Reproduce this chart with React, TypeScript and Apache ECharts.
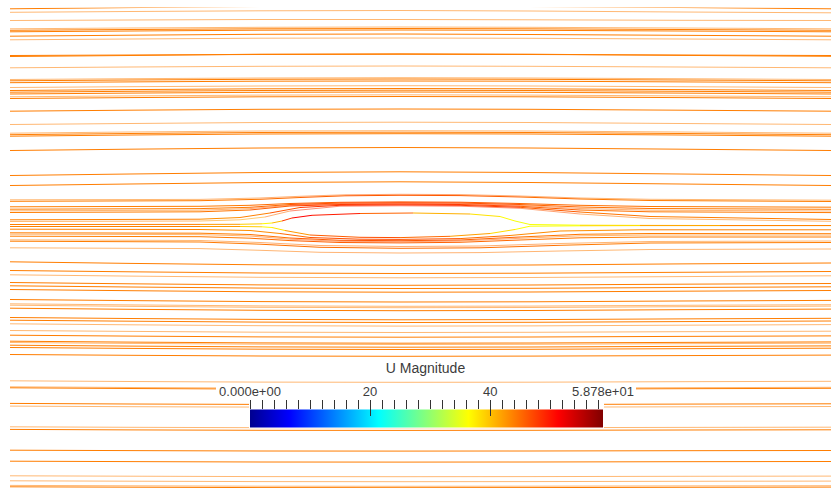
import React, { useEffect, useRef } from "react";
import * as echarts from "echarts";

const U_MAX = 58.78;
const FREESTREAM = 44;

// x positions (data units = pixels) at which far-field streamlines are sampled
const STATIONS = [10, 130, 260, 400, 530, 680, 831];

// far-field streamlines above the airfoil: y at each station
const FAR_UPPER_Y: number[][] = [
  [8.8, 7.6, 6.5, 6.0, 6.5, 7.5, 8.8],
  [12.3, 11.5, 10.8, 10.5, 11.0, 12.0, 12.8],
  [20.5, 20.0, 19.5, 19.5, 19.8, 20.3, 20.5],
  [28.8, 28.0, 27.3, 27.0, 27.3, 28.0, 28.8],
  [30.3, 29.5, 28.8, 28.5, 28.8, 29.5, 30.3],
  [31.8, 31.0, 30.2, 30.0, 30.3, 31.0, 31.8],
  [36.2, 35.2, 34.3, 34.0, 34.5, 35.3, 36.2],
  [39.8, 39.0, 38.2, 38.0, 38.3, 39.0, 39.8],
  [55.5, 55.0, 54.5, 54.3, 54.5, 55.0, 55.5],
  [56.5, 55.5, 54.2, 53.8, 54.2, 55.4, 56.3],
  [67.8, 67.0, 66.3, 66.0, 66.3, 67.0, 67.8],
  [79.5, 78.7, 78.0, 77.7, 78.0, 78.7, 79.5],
  [80.8, 80.0, 79.3, 79.0, 79.3, 80.0, 80.8],
  [82.7, 81.9, 81.2, 81.0, 81.2, 81.9, 82.7],
  [87.5, 86.7, 86.0, 85.7, 86.0, 86.7, 87.5],
  [90.5, 89.6, 88.8, 88.5, 88.8, 89.6, 90.5],
  [92.2, 91.3, 90.5, 90.2, 90.5, 91.3, 92.2],
  [94.0, 93.1, 92.3, 92.0, 92.3, 93.1, 94.0],
  [96.8, 95.9, 95.1, 94.8, 95.1, 95.9, 96.8],
  [98.5, 97.6, 96.8, 96.5, 96.8, 97.6, 98.5],
  [111.2, 110.2, 109.3, 109.0, 109.3, 110.2, 111.2],
  [124.5, 123.5, 122.5, 122.2, 122.5, 123.5, 124.5],
  [133.2, 132.0, 131.0, 130.7, 131.0, 132.0, 133.2],
  [134.7, 133.5, 132.5, 132.2, 132.5, 133.5, 134.7],
  [136.2, 135.0, 134.0, 133.7, 134.0, 135.0, 136.2],
  [150.5, 149.2, 148.0, 147.5, 148.0, 149.2, 150.5],
  [175.5, 174.0, 172.5, 171.8, 172.5, 174.0, 175.5],
  [185.5, 184.0, 182.5, 181.8, 182.5, 184.0, 185.5],
];
const FAR_UPPER_LIGHT = [
  false, true, true, true, false, false, false, true, false, false,
  true, true, false, false, true, false, false, false, true, false,
  false, true, true, false, false, false, false, false,
];

// far-field streamlines below the airfoil
const FAR_LOWER_Y: number[][] = [
  [261.8, 263.4, 264.8, 265.3, 265.0, 263.9, 263.0],
  [270.5, 271.8, 273.0, 273.5, 273.2, 272.3, 271.5],
  [274.8, 276.1, 277.3, 277.8, 277.5, 276.6, 275.8],
  [282.5, 283.8, 284.9, 285.3, 285.0, 284.2, 283.5],
  [285.8, 287.0, 288.1, 288.5, 288.3, 287.5, 286.8],
  [289.5, 290.7, 291.8, 292.2, 292.0, 291.2, 290.5],
  [299.5, 300.6, 301.6, 302.0, 301.8, 301.0, 300.4],
  [303.8, 304.9, 305.9, 306.3, 306.1, 305.3, 304.7],
  [305.2, 306.3, 307.3, 307.7, 307.5, 306.7, 306.1],
  [308.2, 309.3, 310.3, 310.7, 310.5, 309.7, 309.1],
  [317.5, 318.5, 319.4, 319.8, 319.6, 318.9, 318.3],
  [320.2, 321.2, 322.1, 322.5, 322.3, 321.6, 321.0],
  [323.8, 324.8, 325.7, 326.1, 325.9, 325.2, 324.6],
  [330.5, 331.4, 332.2, 332.5, 332.3, 331.7, 331.2],
  [335.2, 336.1, 336.9, 337.2, 337.0, 336.4, 335.9],
  [341.2, 342.1, 342.9, 343.2, 343.0, 342.4, 341.9],
  [342.5, 343.4, 344.2, 344.5, 344.3, 343.7, 343.2],
  [345.2, 346.1, 346.9, 347.2, 347.0, 346.4, 345.9],
  [347.5, 348.4, 349.2, 349.5, 349.3, 348.7, 348.2],
  [354.5, 355.3, 356.0, 356.3, 356.1, 355.6, 355.1],
  [380.8, 381.5, 382.1, 382.3, 382.2, 381.7, 381.3],
  [386.8, 387.5, 388.1, 388.3, 388.2, 387.7, 387.3],
  [387.8, 388.5, 389.1, 389.3, 389.2, 388.7, 388.3],
  [403.4, 404.0, 404.4, 404.6, 404.5, 404.1, 403.8],
  [406.1, 406.7, 407.1, 407.3, 407.2, 406.8, 406.5],
  [426.8, 427.3, 427.7, 427.8, 427.7, 427.4, 427.2],
  [429.4, 429.9, 430.3, 430.4, 430.3, 430.0, 429.8],
  [450.2, 450.6, 451.0, 451.1, 451.0, 450.7, 450.5],
  [461.2, 461.6, 462.0, 462.1, 462.0, 461.7, 461.5],
  [475.8, 476.2, 476.6, 476.7, 476.6, 476.3, 476.1],
  [480.8, 481.2, 481.6, 481.7, 481.6, 481.3, 481.1],
  [485.4, 485.8, 486.2, 486.3, 486.2, 485.9, 485.7],
  [486.8, 487.2, 487.6, 487.7, 487.6, 487.3, 487.1],
];
const FAR_LOWER_LIGHT = [
  false, false, true, false, false, false, false, true, true, false,
  false, false, true, true, false, false, true, false, false, false,
  true, true, false, false, true, true, false, false, false, true,
  true, true, false,
];

// streamlines passing close to the airfoil: [x, y, |U|]
const NEAR_LINES: number[][][] = [
  [[10,199.8,44],[200,199.4,44],[260,198,44.5],[300,196.3,45],[345,194.8,45.5],[400,194.3,46],[460,194.6,45.5],[520,196,45],[580,198,44.5],[650,199.3,44],[831,200.2,44]],
  [[10,201.3,44],[200,200.7,44],[260,199.3,44.5],[300,197.5,45.5],[345,195.8,46],[400,195.3,46.5],[460,195.6,46],[520,197,45.5],[580,199,44.5],[650,200.5,44],[831,201.5,44]],
  [[10,206.8,44],[200,206.3,44],[250,205.3,44.5],[290,203.5,45.5],[340,202.3,46.5],[400,201.9,46.5],[460,202.2,46.5],[520,203.5,45.5],[580,205.3,45],[650,206.5,44.5],[831,207.2,44]],
  [[10,209.2,44],[200,208.6,44],[250,207.3,44.5],[290,204.5,46],[340,203.1,47],[400,202.7,47],[460,203,47],[520,204.5,46],[580,207,45],[650,208.5,44.5],[831,209.3,44]],
  [[10,210.8,44],[200,210.2,44],[250,208.6,45],[290,205.3,46.5],[340,203.8,47.5],[400,203.4,47.5],[460,203.8,47.5],[520,205.4,46.5],[580,208.5,45],[650,210.2,44.5],[831,211,44]],
  [[10,212.5,44],[200,211.8,44],[250,210,45],[290,206,47],[340,204.5,48],[400,204.1,48],[460,204.5,48],[520,206.3,46.5],[580,210,45],[650,211.8,44.5],[831,212.6,44]],
  [[10,219.8,44],[200,219.2,43.5],[240,217.5,42.5],[270,213,45],[300,207.5,48],[340,205.3,48.5],[400,204.9,48.5],[460,205.3,48.5],[520,207.3,47],[580,212,45],[650,216.5,44],[831,219.5,44]],
  [[10,221.5,44],[200,221,43.5],[240,219.8,41.5],[265,217,42],[290,211,48],[340,206.2,49],[400,205.8,49],[460,206.2,49],[520,208.3,47.5],[580,214,45],[650,218.5,44],[831,221.3,44]],
  [[10,224.5,44],[200,224.4,43.5],[240,224.3,41],[262,223.8,37.5],[272,223,36],[282,221,45],[292,218,51],[312,215.3,51.5],[360,213.5,48],[413,213,43],[470,214,39],[500,216.5,37],[515,221,36],[530,224.5,35.5],[580,225.2,36.5],[640,225.4,40],[720,225.5,43],[831,225.5,44]],
  [[10,226.5,44],[200,226.5,43.5],[240,226.5,41],[262,226.8,37.5],[272,227.5,36],[285,230.5,40],[310,235,45],[360,237.3,47],[400,237.6,46.5],[450,236.3,44],[490,233.5,40],[515,229.5,37],[530,226.2,35.5],[580,225.8,36.5],[640,225.6,40],[720,225.6,43],[831,225.6,44]],
  [[10,229.2,44],[200,229.5,43.5],[250,230.5,42.5],[280,233.5,44],[310,237.5,46.5],[360,239.2,47],[400,239.4,47],[460,238.6,46],[510,235.5,44],[560,231,42.5],[640,229.8,43.5],[831,229.8,44]],
  [[10,232.8,44],[200,233.2,44],[250,234.5,44],[290,238,45.5],[340,240.3,46.5],[400,240.7,46.5],[460,240,46],[520,237,45],[580,234.3,44],[650,233.5,44],[831,233.7,44]],
  [[10,234.2,44],[200,234.6,44],[250,236,44.5],[290,239.2,45.5],[340,241.3,46.5],[400,241.7,46.5],[460,241,46],[520,238.3,45],[580,235.8,44],[650,235,44],[831,235.1,44]],
  [[10,236.2,44],[200,236.7,44],[250,238.2,44.5],[290,240.6,45.5],[340,242.5,46],[400,242.9,46],[460,242.3,45.5],[520,240,45],[580,237.8,44],[650,237,44],[831,237,44]],
  [[10,239.8,44],[200,240.5,44],[260,242.5,44.5],[320,245.5,45],[400,246.5,45],[480,246,45],[560,243.5,44.5],[650,241.5,44],[831,241,44]],
  [[10,241.2,44],[200,242,44],[260,244.2,44.5],[320,247.3,45],[400,248.3,45],[480,247.8,45],[560,245.3,44.5],[650,243,44],[831,242.5,44]],
  [[10,247.8,44],[200,248.6,44],[260,250.3,44],[320,252.3,44.5],[400,253,44.5],[480,252.6,44.5],[560,251,44],[650,249.5,44],[831,249,44]],
];
const NEAR_LIGHT = [true, false, false, false, true, false, false, true, false, false, false, false, true, false, true, false, true];

// colour bar
const JET_STOPS: [number, number, number, number][] = [
  [0, 0, 0, 143],
  [0.111, 0, 0, 255],
  [0.365, 0, 255, 255],
  [0.492, 128, 255, 128],
  [0.619, 255, 255, 0],
  [0.873, 255, 0, 0],
  [1, 128, 0, 0],
];
const MINOR_TICKS = [0, 2, 4, 6, 8, 10, 12, 14, 16, 18, 20, 22, 24, 26, 28, 30, 32, 34, 36, 38, 40, 42, 44, 46, 48, 50, 52, 54, 56, 58];
const MAJOR_TICKS = [20, 40];
const LABEL_VALUES = [0, 20, 40, 58.78];
const LABEL_TEXTS = ["0.000e+00", "20", "40", "5.878e+01"];
const BAR_TITLE = "U Magnitude";

function jet(s: number): string {
  const t = Math.max(0, Math.min(1, s / U_MAX));
  for (let i = 1; i < JET_STOPS.length; i++) {
    const a = JET_STOPS[i - 1];
    const b = JET_STOPS[i];
    if (t <= b[0]) {
      const f = (t - a[0]) / (b[0] - a[0]);
      const r = Math.round(a[1] + (b[1] - a[1]) * f);
      const g = Math.round(a[2] + (b[2] - a[2]) * f);
      const bl = Math.round(a[3] + (b[3] - a[3]) * f);
      return `rgb(${r},${g},${bl})`;
    }
  }
  return "rgb(128,0,0)";
}

const FONT = "'Liberation Sans', Arial, sans-serif";
const TEXT_COLOR = "#3c3c3c";
const LIGHT_OPACITY = 0.55;

export default function App() {
  const ref = useRef<HTMLDivElement>(null);
  useEffect(() => {
    if (!ref.current) return;
    const chart = echarts.init(ref.current, null, { renderer: "svg" });

    const data: any[] = [];
    const addFar = (ys: number[][], light: boolean[]) => {
      ys.forEach((row, k) => {
        data.push({
          coords: STATIONS.map((x, i) => [x, row[i]]),
          lineStyle: { color: jet(FREESTREAM), opacity: light[k] ? LIGHT_OPACITY : 1 },
        });
      });
    };
    addFar(FAR_UPPER_Y, FAR_UPPER_LIGHT);
    addFar(FAR_LOWER_Y, FAR_LOWER_LIGHT);
    NEAR_LINES.forEach((pts, k) => {
      for (let i = 1; i < pts.length; i++) {
        const p = pts[i - 1];
        const q = pts[i];
        data.push({
          coords: [[p[0], p[1]], [q[0], q[1]]],
          lineStyle: { color: jet((p[2] + q[2]) / 2), opacity: NEAR_LIGHT[k] ? LIGHT_OPACITY : 1 },
        });
      }
    });

    const barLeft = 250;
    const barWidth = 353;
    // grids for the colour-bar axes: bottom edge at y = 400
    const axisGrid = { left: barLeft, width: barWidth, top: 370, height: 30 };

    const tickAxis = (gridIndex: number, values: number[], length: number, labels: boolean) => ({
      type: "value",
      gridIndex,
      min: 0,
      max: U_MAX,
      position: "bottom",
      z: 50,
      axisLine: { show: false },
      splitLine: { show: false },
      axisTick: { show: true, inside: false, length, customValues: values, lineStyle: { color: "#333", width: 1 } },
      axisLabel: {
        show: labels,
        inside: true,
        customValues: LABEL_VALUES,
        margin: 2,
        color: TEXT_COLOR,
        fontSize: 13,
        fontFamily: FONT,
        formatter: (v: number) => {
          const i = LABEL_VALUES.findIndex((l) => Math.abs(l - v) < 1e-6);
          return i >= 0 ? LABEL_TEXTS[i] : "";
        },
      },
    });

    chart.setOption({
      animation: false,
      backgroundColor: "#ffffff",
      grid: [{ left: 10, right: 0, top: 8, bottom: 0 }, axisGrid, axisGrid],
      xAxis: [
        { type: "value", min: 10, max: 831, show: false, gridIndex: 0 },
        tickAxis(1, MINOR_TICKS, 9, true),
        tickAxis(2, MAJOR_TICKS, 16, false),
      ],
      yAxis: [
        { type: "value", min: 8, max: 488, inverse: true, show: false, gridIndex: 0 },
        { type: "value", min: 0, max: 1, show: false, gridIndex: 1 },
        { type: "value", min: 0, max: 1, show: false, gridIndex: 2 },
      ],
      series: [
        {
          type: "lines",
          coordinateSystem: "cartesian2d",
          xAxisIndex: 0,
          yAxisIndex: 0,
          polyline: true,
          silent: true,
          clip: true,
          lineStyle: { width: 1 },
          data,
        },
      ],
      graphic: [
        { type: "rect", z: 20, silent: true, shape: { x: 216, y: 385.5, width: 420, height: 15 }, style: { fill: "#ffffff" } },
        { type: "rect", z: 20, silent: true, shape: { x: 249, y: 400, width: 355, height: 28 }, style: { fill: "#ffffff" } },
        {
          type: "rect",
          z: 30,
          silent: true,
          shape: { x: barLeft, y: 409.5, width: barWidth, height: 18 },
          style: {
            fill: new echarts.graphic.LinearGradient(
              0, 0, 1, 0,
              JET_STOPS.map((s) => ({ offset: s[0], color: `rgb(${s[1]},${s[2]},${s[3]})` }))
            ),
          },
        },
        {
          type: "text",
          z: 30,
          silent: true,
          x: 425.5,
          y: 368,
          style: {
            text: BAR_TITLE,
            fill: TEXT_COLOR,
            font: `14px ${FONT}`,
            textAlign: "center",
            textVerticalAlign: "middle",
          },
        },
      ],
    });
    return () => chart.dispose();
  }, []);
  return <div ref={ref} style={{ position: "fixed", left: 0, top: 0, width: 831, height: 488 }} />;
}
